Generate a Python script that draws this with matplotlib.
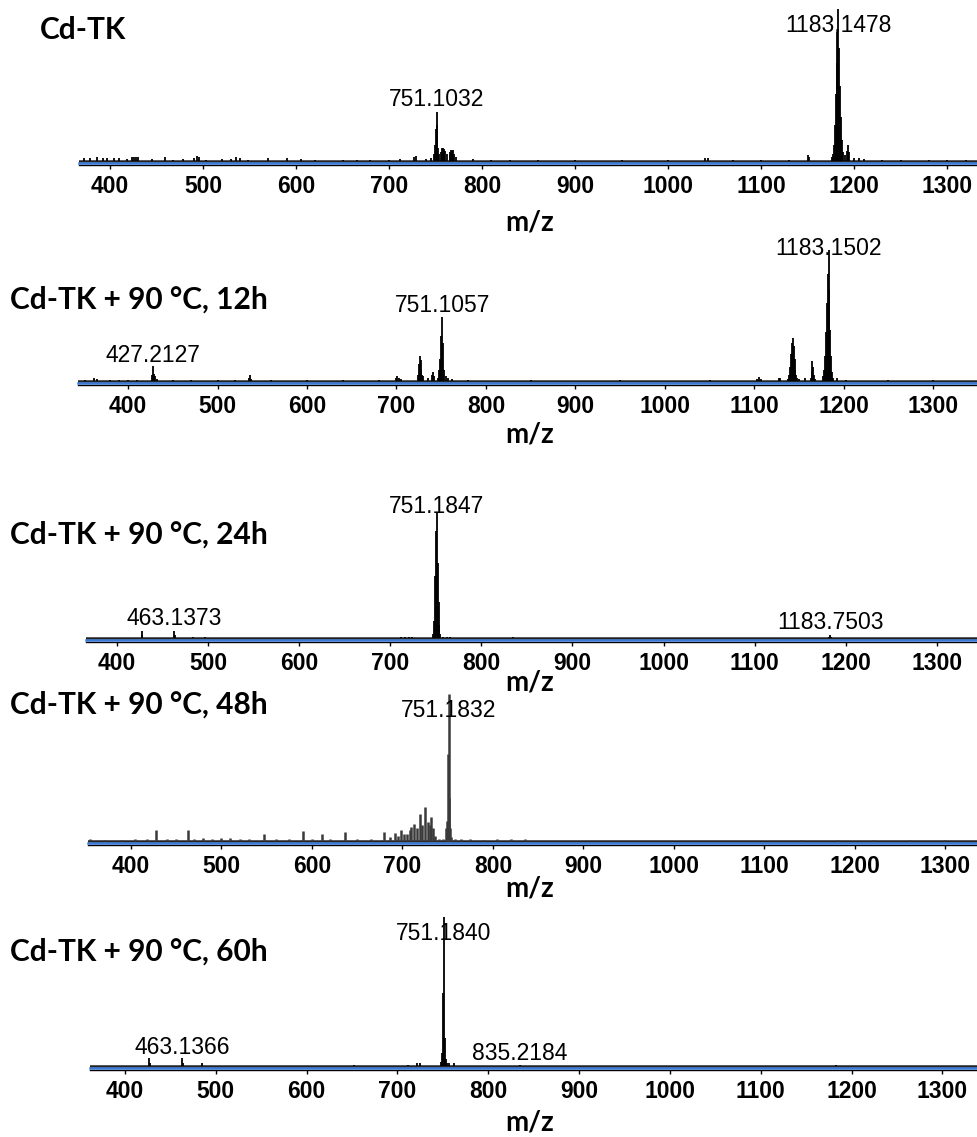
import matplotlib
matplotlib.use("Agg")
import matplotlib.pyplot as plt

W, H = 977, 1137

# ---- data (m/z, relative intensity) ----
titles = ["Cd-TK", "Cd-TK + 90 °C, 12h", "Cd-TK + 90 °C, 24h",
          "Cd-TK + 90 °C, 48h", "Cd-TK + 90 °C, 60h"]

mz_1 = [372, 378, 386, 392, 397, 404, 410, 418, 424, 426, 428, 430, 445, 459,
        468, 478, 490, 494, 496, 503, 520, 530, 536, 540, 548, 570, 590, 605,
        620, 650, 665, 680, 700, 712, 727, 729, 740, 745, 748, 749, 750, 751,
        752, 753, 754, 756, 757, 758, 759, 760, 762, 765, 766, 767, 768, 769,
        770, 772, 790, 810, 830, 860, 900, 950, 1000, 1040, 1043, 1070, 1100,
        1130, 1150, 1151, 1176, 1177, 1178, 1179, 1180, 1181, 1182, 1183, 1184,
        1185, 1186, 1187, 1188, 1190, 1192, 1193, 1194, 1200, 1205, 1210, 1230,
        1250, 1280, 1300, 1320]
int_1 = [0.03, 0.03, 0.04, 0.03, 0.03, 0.03, 0.03, 0.025, 0.04, 0.04, 0.04,
         0.04, 0.025, 0.04, 0.02, 0.025, 0.03, 0.045, 0.04, 0.02, 0.025, 0.025,
         0.04, 0.03, 0.02, 0.03, 0.03, 0.025, 0.02, 0.02, 0.02, 0.02, 0.02,
         0.025, 0.04, 0.045, 0.025, 0.03, 0.06, 0.12, 0.22, 0.33, 0.25, 0.1,
         0.06, 0.07, 0.1, 0.1, 0.09, 0.08, 0.06, 0.05, 0.07, 0.085, 0.08,
         0.085, 0.06, 0.04, 0.025, 0.02, 0.02, 0.02, 0.02, 0.02, 0.02, 0.035,
         0.03, 0.02, 0.02, 0.02, 0.05, 0.04, 0.04, 0.06, 0.12, 0.25, 0.45,
         0.65, 0.85, 1.0, 0.75, 0.5, 0.3, 0.15, 0.07, 0.05, 0.08, 0.12, 0.07,
         0.035, 0.03, 0.025, 0.02, 0.02, 0.02, 0.02, 0.02]

mz_2 = [352, 362, 365, 380, 390, 400, 410, 427, 428, 429, 430, 432, 450, 470,
        500, 520, 535, 536, 537, 560, 600, 640, 680, 700, 701, 703, 705, 724,
        725, 726, 727, 728, 729, 730, 735, 740, 741, 742, 747, 748, 749, 750,
        751, 752, 753, 755, 758, 762, 780, 850, 950, 1050, 1103, 1105, 1107,
        1128, 1129, 1138, 1139, 1140, 1141, 1142, 1143, 1144, 1145, 1146, 1147,
        1148, 1150, 1157, 1163, 1164, 1165, 1166, 1167, 1168, 1177, 1178, 1179,
        1180, 1181, 1182, 1183, 1184, 1185, 1186, 1187, 1188, 1193, 1203, 1250,
        1300]
int_2 = [0.02, 0.04, 0.03, 0.02, 0.025, 0.02, 0.02, 0.06, 0.13, 0.07, 0.05,
         0.03, 0.02, 0.02, 0.02, 0.02, 0.04, 0.06, 0.03, 0.02, 0.02, 0.02,
         0.02, 0.035, 0.05, 0.04, 0.03, 0.06, 0.14, 0.2, 0.17, 0.1, 0.06, 0.05,
         0.04, 0.06, 0.08, 0.05, 0.04, 0.1, 0.18, 0.35, 0.5, 0.3, 0.1, 0.05,
         0.04, 0.03, 0.02, 0.02, 0.02, 0.02, 0.03, 0.045, 0.03, 0.04, 0.04,
         0.03, 0.06, 0.12, 0.22, 0.3, 0.34, 0.28, 0.18, 0.1, 0.06, 0.04, 0.03,
         0.04, 0.04, 0.09, 0.165, 0.12, 0.06, 0.03, 0.05, 0.1, 0.2, 0.38,
         0.6, 0.82, 1.0, 0.7, 0.4, 0.2, 0.08, 0.04, 0.035, 0.025, 0.02, 0.02]

mz_3 = [427, 428, 463, 464, 483, 497, 712, 716, 720, 724, 730, 747, 748,
        749, 750, 751, 752, 753, 754, 755, 758, 762, 766, 835, 1182, 1183, 1184]
int_3 = [0.07, 0.04, 0.07, 0.04, 0.02, 0.02, 0.02, 0.02, 0.02, 0.02, 0.015,
         0.05, 0.15, 0.5, 0.85, 1.0, 0.6, 0.3, 0.12, 0.05, 0.02, 0.02, 0.02,
         0.02, 0.02, 0.04, 0.02]

mz_4 = [355, 370, 390, 405, 418, 428, 440, 450, 463, 470, 480, 490, 500, 510,
        520, 530, 547, 560, 575, 590, 600, 611, 620, 637, 650, 665, 680, 686,
        692, 695, 699, 702, 705, 708, 710, 713, 716, 719, 722, 725, 728, 730,
        732, 734, 736, 740, 745, 748, 749, 750, 751, 752, 753, 754, 758, 765,
        775, 790, 805, 820, 835, 860, 900, 960, 1020, 1080, 1140, 1180, 1220,
        1260, 1300]
int_4 = [0.03, 0.02, 0.02, 0.03, 0.03, 0.09, 0.03, 0.03, 0.09, 0.03, 0.035,
         0.03, 0.035, 0.035, 0.03, 0.03, 0.06, 0.03, 0.025, 0.08, 0.03, 0.06,
         0.03, 0.075, 0.03, 0.03, 0.075, 0.04, 0.07, 0.05, 0.085, 0.06, 0.06,
         0.09, 0.11, 0.13, 0.1, 0.195, 0.12, 0.24, 0.14, 0.12, 0.175, 0.1,
         0.05, 0.03, 0.03, 0.1, 0.15, 0.6, 1.0, 0.3, 0.1, 0.04, 0.03, 0.025,
         0.025, 0.02, 0.025, 0.025, 0.03, 0.015, 0.015, 0.015, 0.015, 0.015,
         0.02, 0.02, 0.02, 0.02, 0.02]

mz_5 = [427, 428, 463, 464, 485, 652, 712, 722, 725, 748, 749, 750, 751, 752,
        753, 754, 757, 762, 835, 1183]
int_5 = [0.066, 0.03, 0.066, 0.03, 0.03, 0.02, 0.02, 0.03, 0.03, 0.04, 0.1,
         0.5, 1.0, 0.2, 0.06, 0.03, 0.03, 0.03, 0.02, 0.02]

mz_all = [mz_1, mz_2, mz_3, mz_4, mz_5]
int_all = [int_1, int_2, int_3, int_4, int_5]

# peak labels: (text, m/z)
labels_1 = [("751.1032", 751), ("1183.1478", 1183)]
labels_2 = [("427.2127", 428), ("751.1057", 751), ("1183.1502", 1183)]
labels_3 = [("463.1373", 463), ("751.1847", 751), ("1183.7503", 1183)]
labels_4 = [("751.1832", 751)]
labels_5 = [("463.1366", 463), ("751.1840", 751), ("835.2184", 835)]
labels_all = [labels_1, labels_2, labels_3, labels_4, labels_5]

xticks = [400, 500, 600, 700, 800, 900, 1000, 1100, 1200, 1300]

# ---- layout (pixels) ----
xlims = [(366.7, 1332), (344, 1349), (366, 1344), (352, 1335), (361.5, 1338)]
left_px = [79, 78, 86, 87.5, 90]
base_px = [163, 383, 640, 843, 1068]
height_px = [154, 133, 128, 149, 151]
label_y = [[0.41, 0.896], [0.21, 0.586, 1.015], [0.17, 1.04, 0.14], [0.89],
           [0.139, 0.894, 0.093]]
title_pos = [(40, 30), (10, 300), (10, 535), (10, 705), (10, 952)]
mz_label_y = [222, 435, 682, 888, 1122]
peak_colors = ["black", "black", "black", "#3a3a3a", "black"]
peak_lw = [1.3, 1.3, 1.3, 1.8, 1.3]
floor = 0.012

fig = plt.figure(figsize=(W / 100, H / 100), dpi=100)

for i in range(5):
    l = left_px[i]
    b = base_px[i]
    h = height_px[i]
    ax = fig.add_axes([l / W, 1 - b / H, (W - l) / W, h / H])
    ax.set_xlim(*xlims[i])
    ax.set_ylim(0, 1)

    ax.axhline(floor, color="#222222", lw=1.8, zorder=2)
    ax.vlines(mz_all[i], floor, int_all[i], color=peak_colors[i],
              lw=peak_lw[i], zorder=3)
    ax.axhline(0, color="#3b7ad8", lw=1.8, zorder=4, clip_on=False)

    for (txt, mz), ly in zip(labels_all[i], label_y[i]):
        ax.text(mz, ly, txt, ha="center", va="center", fontsize=16.5,
                family="Liberation Sans", clip_on=False, zorder=5)

    for s in ["top", "left", "right"]:
        ax.spines[s].set_visible(False)
    ax.spines["bottom"].set_position(("outward", 1.5))
    ax.spines["bottom"].set_linewidth(1.0)
    ax.set_yticks([])
    ax.set_xticks(xticks)
    ax.set_xticklabels([str(t) for t in xticks], fontfamily="Liberation Sans",
                       fontweight="bold", fontsize=16.5)
    ax.tick_params(axis="x", length=3, width=1, pad=4)
    ax.patch.set_alpha(0)

    tx, ty = title_pos[i]
    fig.text(tx / W, 1 - ty / H, titles[i], ha="left", va="center",
             fontsize=21.5, fontweight="bold", family="Lato")
    fig.text(530 / W, 1 - mz_label_y[i] / H, "m/z", ha="center", va="center",
             fontsize=20, fontweight="bold", family="Lato")

fig.savefig("out.png", dpi=100)
